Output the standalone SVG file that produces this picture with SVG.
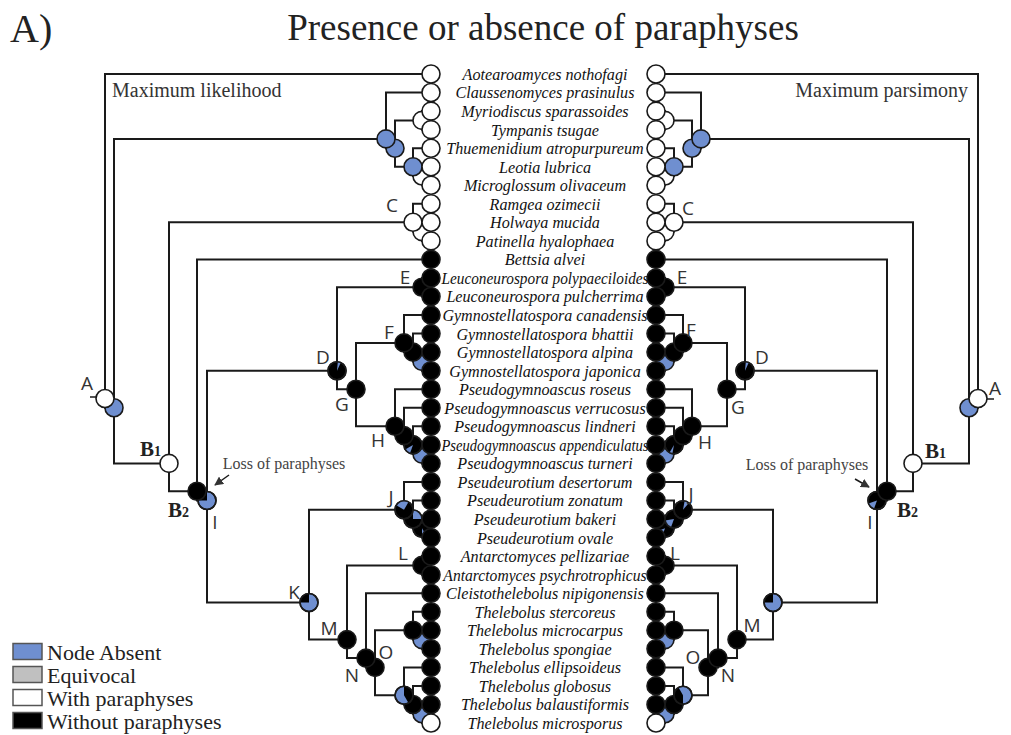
<svg xmlns="http://www.w3.org/2000/svg" width="1011" height="735" viewBox="0 0 1011 735">
<style>
.ln{fill:none;stroke:#1a1a1a;stroke-width:2}
.w{fill:#fff;stroke:#1a1a1a;stroke-width:1.6}
.k{fill:#000;stroke:#1a1a1a;stroke-width:1.6}
.b{fill:#6f8fd0;stroke:#1a1a1a;stroke-width:1.6}
.o{fill:none;stroke:#1a1a1a;stroke-width:1.6}
.fb{fill:#6f8fd0}
.fk{fill:#000}
.tx{font-family:"Liberation Serif",serif;font-style:italic;font-size:17px;text-anchor:middle;fill:#111}
.lb{font-family:"Open Sans","DejaVu Sans",sans-serif;font-size:19px;text-anchor:middle;fill:#333}
.bl{font-family:"Liberation Serif",serif;font-weight:bold;font-size:21px;fill:#222}
.sub{font-size:14px}
.lg{font-family:"Liberation Serif",serif;font-size:22px;fill:#222}
.loss{font-family:"Liberation Serif",serif;font-size:16px;fill:#444;text-anchor:middle}
.hd{font-family:"Liberation Serif",serif;font-size:20px;fill:#333}
</style>
<defs>
<marker id="ah" viewBox="0 0 10 10" refX="9" refY="5" markerWidth="6" markerHeight="6" orient="auto"><path d="M0,0 L10,5 L0,10 z" fill="#333"/></marker>
</defs>
<rect width="1011" height="735" fill="#fff"/>
<text x="10" y="42" font-family="Liberation Serif, serif" font-size="40" fill="#222">A)</text>
<text x="543" y="40" font-family="Liberation Serif, serif" font-size="37" fill="#222" text-anchor="middle">Presence or absence of paraphyses</text>
<text class="hd" x="112" y="97">Maximum likelihood</text>
<text class="hd" x="968" y="97" text-anchor="end">Maximum parsimony</text>

<g id="connectors" class="ln">
<path d="M431,74 H105 V407.8 H114"/>
<path d="M386,138.9 H114 V463.4 H169"/>
<path d="M413,222.3 H169 V491.2 H197"/>
<path d="M431,259.4 H197 V500.5 H207"/>
<path d="M337,370.7 H207 V602.5 H309"/>
<path d="M422,287.2 H337 V389.2 H356"/>
<path d="M404,342.9 H356 V426.3 H395"/>
<path d="M404,509.8 H309 V639.6 H347"/>
<path d="M422,565.4 H347 V658.1 H366"/>
<path d="M431,593.2 H366 V667.4 H375"/>
<path d="M413,630.3 H375 V695.2 H404"/>
<path d="M431,92.5 H386 V148.2 H395"/>
<path d="M422,120.4 H395 V166.7 H413"/>
<path d="M431,111.1 H422 V129.6 H431"/>
<path d="M431,148.2 H413 V176 H422"/>
<path d="M431,166.7 H422 V185.3 H431"/>
<path d="M431,203.8 H413 V231.6 H422"/>
<path d="M431,222.3 H422 V240.9 H431"/>
<path d="M431,278 H422 V296.5 H431"/>
<path d="M431,315.1 H404 V352.1 H413"/>
<path d="M431,333.6 H413 V361.4 H422"/>
<path d="M431,352.1 H422 V370.7 H431"/>
<path d="M431,389.2 H395 V435.6 H404"/>
<path d="M431,407.8 H404 V444.9 H413"/>
<path d="M431,426.3 H413 V454.1 H422"/>
<path d="M431,444.9 H422 V463.4 H431"/>
<path d="M431,481.9 H404 V519 H413"/>
<path d="M431,500.5 H413 V528.3 H422"/>
<path d="M431,519 H422 V537.6 H431"/>
<path d="M431,556.1 H422 V574.7 H431"/>
<path d="M431,611.7 H413 V639.6 H422"/>
<path d="M431,630.3 H422 V648.8 H431"/>
<path d="M431,667.4 H404 V704.5 H413"/>
<path d="M431,685.9 H413 V713.7 H422"/>
<path d="M431,704.5 H422 V723 H431"/>
<path d="M656,74 H978 V407.8 H969"/>
<path d="M701,138.9 H969 V463.4 H913"/>
<path d="M674,222.3 H913 V491.2 H887"/>
<path d="M656,259.4 H887 V500.5 H877"/>
<path d="M745,370.7 H877 V602.5 H773"/>
<path d="M665,287.2 H745 V389.2 H727"/>
<path d="M683,342.9 H727 V426.3 H692"/>
<path d="M683,509.8 H773 V639.6 H737"/>
<path d="M665,565.4 H737 V658.1 H718"/>
<path d="M656,593.2 H718 V667.4 H708"/>
<path d="M674,630.3 H708 V695.2 H683"/>
<path d="M656,92.5 H701 V148.2 H692"/>
<path d="M665,120.4 H692 V166.7 H674"/>
<path d="M656,111.1 H665 V129.6 H656"/>
<path d="M656,148.2 H674 V176 H665"/>
<path d="M656,166.7 H665 V185.3 H656"/>
<path d="M656,203.8 H674 V231.6 H665"/>
<path d="M656,222.3 H665 V240.9 H656"/>
<path d="M656,278 H665 V296.5 H656"/>
<path d="M656,315.1 H683 V352.1 H674"/>
<path d="M656,333.6 H674 V361.4 H665"/>
<path d="M656,352.1 H665 V370.7 H656"/>
<path d="M656,389.2 H692 V435.6 H683"/>
<path d="M656,407.8 H683 V444.9 H674"/>
<path d="M656,426.3 H674 V454.1 H665"/>
<path d="M656,444.9 H665 V463.4 H656"/>
<path d="M656,481.9 H683 V519 H674"/>
<path d="M656,500.5 H674 V528.3 H665"/>
<path d="M656,519 H665 V537.6 H656"/>
<path d="M656,556.1 H665 V574.7 H656"/>
<path d="M656,611.7 H674 V639.6 H665"/>
<path d="M656,630.3 H665 V648.8 H656"/>
<path d="M656,667.4 H683 V704.5 H674"/>
<path d="M656,685.9 H674 V713.7 H665"/>
<path d="M656,704.5 H665 V723 H656"/>
<path d="M90,397 H97" stroke-width="1.5"/>
<path d="M987,399 H994" stroke-width="1.5"/>
<path d="M229,475 L215,485" stroke-width="1.5" marker-end="url(#ah)"/>
<path d="M855,479 L869,487" stroke-width="1.5" marker-end="url(#ah)"/>
</g>

<g id="left-nodes">
<g id="L-T3"><circle class="w" cx="422" cy="120.4" r="9"/></g>
<g id="L-T5"><circle class="w" cx="422" cy="176" r="9"/></g>
<g id="L-T4"><circle class="b" cx="413" cy="166.7" r="9"/></g>
<g id="L-T2"><circle class="b" cx="395" cy="148.2" r="9"/></g>
<g id="L-T1"><circle class="b" cx="386" cy="138.9" r="9"/></g>
<g id="L-C2"><circle class="w" cx="422" cy="231.6" r="9"/></g>
<g id="L-C"><circle class="w" cx="413" cy="222.3" r="9"/><text class="lb" x="392" y="212">C</text></g>
<g id="L-E"><circle class="k" cx="422" cy="287.2" r="9"/><text class="lb" x="405" y="284">E</text></g>
<g id="L-F3"><circle class="b" cx="422" cy="361.4" r="9"/></g>
<g id="L-F2"><circle class="k" cx="413" cy="352.1" r="9"/></g>
<g id="L-F"><circle class="k" cx="404" cy="342.9" r="9"/><text class="lb" x="389" y="339">F</text></g>
<g id="L-H4"><circle class="b" cx="422" cy="454.1" r="9"/></g>
<g id="L-H3"><circle class="k" cx="413" cy="444.9" r="9"/><path class="fb" d="M413,444.9 L409.9,453.4 A9,9 0 0 1 405.2,449.4 Z"/><circle class="o" cx="413" cy="444.9" r="9"/></g>
<g id="L-H2"><circle class="k" cx="404" cy="435.6" r="9"/></g>
<g id="L-H"><circle class="k" cx="395" cy="426.3" r="9"/><text class="lb" x="378" y="447">H</text></g>
<g id="L-G"><circle class="k" cx="356" cy="389.2" r="9"/><text class="lb" x="342" y="411">G</text></g>
<g id="L-D"><circle class="k" cx="337" cy="370.7" r="9"/><path class="fb" d="M337,370.7 L337.8,361.7 A9,9 0 0 1 340.8,362.5 Z"/><circle class="o" cx="337" cy="370.7" r="9"/><text class="lb" x="323" y="364">D</text></g>
<g id="L-J3"><circle class="k" cx="422" cy="528.3" r="9"/><path class="fb" d="M422,528.3 L426.5,536.1 A9,9 0 0 1 422,537.3 Z"/><circle class="o" cx="422" cy="528.3" r="9"/></g>
<g id="L-J2"><circle class="k" cx="413" cy="519" r="9"/><path class="fb" d="M413,519 L413,510 A9,9 0 0 1 422,519 Z"/><circle class="o" cx="413" cy="519" r="9"/></g>
<g id="L-J"><circle class="k" cx="404" cy="509.8" r="9"/><path class="fb" d="M404,509.8 L396.2,505.3 A9,9 0 0 1 408.5,502 Z"/><circle class="o" cx="404" cy="509.8" r="9"/><text class="lb" x="391" y="504">J</text></g>
<g id="L-L"><circle class="k" cx="422" cy="565.4" r="9"/><text class="lb" x="403" y="560">L</text></g>
<g id="L-U2"><circle class="b" cx="422" cy="639.6" r="9"/></g>
<g id="L-U1"><circle class="k" cx="413" cy="630.3" r="9"/></g>
<g id="L-W3"><circle class="b" cx="422" cy="713.7" r="9"/></g>
<g id="L-W2"><circle class="k" cx="413" cy="704.5" r="9"/></g>
<g id="L-W1"><circle class="b" cx="404" cy="695.2" r="9"/><path class="fk" d="M404,695.2 L404,686.2 A9,9 0 0 1 408.5,703 Z"/><circle class="o" cx="404" cy="695.2" r="9"/></g>
<g id="L-O"><circle class="k" cx="375" cy="667.4" r="9"/><text class="lb" x="386" y="659">O</text></g>
<g id="L-N"><circle class="k" cx="366" cy="658.1" r="9"/><text class="lb" x="352" y="682">N</text></g>
<g id="L-M"><circle class="k" cx="347" cy="639.6" r="9"/><text class="lb" x="329" y="635">M</text></g>
<g id="L-K"><circle class="b" cx="309" cy="602.5" r="9"/><path class="fk" d="M309,602.5 L300,602.5 A9,9 0 0 1 309,593.5 Z"/><circle class="o" cx="309" cy="602.5" r="9"/><text class="lb" x="294" y="599">K</text></g>
<g id="L-I"><circle class="b" cx="207" cy="500.5" r="9"/><path class="fk" d="M207,500.5 L198,500.5 A9,9 0 0 1 207,491.5 Z"/><circle class="o" cx="207" cy="500.5" r="9"/><text class="lb" x="215" y="529">I</text></g>
<g id="L-B2"><circle class="k" cx="197" cy="491.2" r="9"/><text class="bl" x="168" y="517">B<tspan class="sub">2</tspan></text></g>
<g id="L-B1"><circle class="w" cx="169" cy="463.4" r="9"/><text class="bl" x="140" y="456">B<tspan class="sub">1</tspan></text></g>
<g id="L-A2"><circle class="b" cx="114" cy="407.8" r="9"/></g>
<g id="L-A"><circle class="w" cx="105" cy="398.5" r="9"/><text class="lb" x="87" y="390">A</text></g>
<g id="L-loss"><text class="loss" x="284" y="469">Loss of paraphyses</text></g>
</g>

<g id="right-nodes">
<g id="R-T3"><circle class="w" cx="665" cy="120.4" r="9"/></g>
<g id="R-T5"><circle class="w" cx="665" cy="176" r="9"/></g>
<g id="R-T4"><circle class="b" cx="674" cy="166.7" r="9"/></g>
<g id="R-T2"><circle class="b" cx="692" cy="148.2" r="9"/></g>
<g id="R-T1"><circle class="b" cx="701" cy="138.9" r="9"/></g>
<g id="R-C2"><circle class="w" cx="665" cy="231.6" r="9"/></g>
<g id="R-C"><circle class="w" cx="674" cy="222.3" r="9"/><text class="lb" x="688" y="215">C</text></g>
<g id="R-E"><circle class="k" cx="665" cy="287.2" r="9"/><text class="lb" x="682" y="284">E</text></g>
<g id="R-F3"><circle class="b" cx="665" cy="361.4" r="9"/></g>
<g id="R-F2"><circle class="k" cx="674" cy="352.1" r="9"/></g>
<g id="R-F"><circle class="k" cx="683" cy="342.9" r="9"/><text class="lb" x="691" y="337">F</text></g>
<g id="R-H4"><circle class="b" cx="665" cy="454.1" r="9"/></g>
<g id="R-H3"><circle class="k" cx="674" cy="444.9" r="9"/><path class="fb" d="M674,444.9 L672.4,453.8 A9,9 0 0 1 669.5,452.7 Z"/><circle class="o" cx="674" cy="444.9" r="9"/></g>
<g id="R-H2"><circle class="k" cx="683" cy="435.6" r="9"/></g>
<g id="R-H"><circle class="k" cx="692" cy="426.3" r="9"/><text class="lb" x="705" y="449">H</text></g>
<g id="R-G"><circle class="k" cx="727" cy="389.2" r="9"/><text class="lb" x="738" y="414">G</text></g>
<g id="R-D"><circle class="k" cx="745" cy="370.7" r="9"/><path class="fb" d="M745,370.7 L745.8,361.7 A9,9 0 0 1 748.8,362.5 Z"/><circle class="o" cx="745" cy="370.7" r="9"/><text class="lb" x="762" y="364">D</text></g>
<g id="R-J3"><circle class="k" cx="665" cy="528.3" r="9"/><path class="fb" d="M665,528.3 L661.9,536.8 A9,9 0 0 1 656.5,531.4 Z"/><circle class="o" cx="665" cy="528.3" r="9"/></g>
<g id="R-J2"><circle class="k" cx="674" cy="519" r="9"/><path class="fb" d="M674,519 L670.9,527.5 A9,9 0 0 1 665.1,520.6 Z"/><circle class="o" cx="674" cy="519" r="9"/></g>
<g id="R-J"><circle class="k" cx="683" cy="509.8" r="9"/><path class="fb" d="M683,509.8 L684.6,500.9 A9,9 0 0 1 688.8,502.9 Z"/><circle class="o" cx="683" cy="509.8" r="9"/><text class="lb" x="691" y="501">J</text></g>
<g id="R-L"><circle class="k" cx="665" cy="565.4" r="9"/><text class="lb" x="675" y="560">L</text></g>
<g id="R-U2"><circle class="b" cx="665" cy="639.6" r="9"/></g>
<g id="R-U1"><circle class="k" cx="674" cy="630.3" r="9"/></g>
<g id="R-W3"><circle class="b" cx="665" cy="713.7" r="9"/></g>
<g id="R-W2"><circle class="k" cx="674" cy="704.5" r="9"/></g>
<g id="R-W1"><circle class="b" cx="683" cy="695.2" r="9"/><path class="fk" d="M683,695.2 L683,704.2 A9,9 0 0 1 678.5,687.4 Z"/><circle class="o" cx="683" cy="695.2" r="9"/></g>
<g id="R-O"><circle class="k" cx="708" cy="667.4" r="9"/><text class="lb" x="693" y="664">O</text></g>
<g id="R-N"><circle class="k" cx="718" cy="658.1" r="9"/><text class="lb" x="728" y="682">N</text></g>
<g id="R-M"><circle class="k" cx="737" cy="639.6" r="9"/><text class="lb" x="752" y="632">M</text></g>
<g id="R-K"><circle class="b" cx="773" cy="602.5" r="9"/><path class="fk" d="M773,602.5 L764,602.5 A9,9 0 0 1 773,593.5 Z"/><circle class="o" cx="773" cy="602.5" r="9"/></g>
<g id="R-I"><circle class="k" cx="877" cy="500.5" r="9"/><path class="fb" d="M877,500.5 L873.9,509 A9,9 0 0 1 868.5,503.6 Z"/><circle class="o" cx="877" cy="500.5" r="9"/><text class="lb" x="870" y="529">I</text></g>
<g id="R-B2"><circle class="k" cx="887" cy="491.2" r="9"/><text class="bl" x="897" y="517">B<tspan class="sub">2</tspan></text></g>
<g id="R-B1"><circle class="w" cx="913" cy="463.4" r="9"/><text class="bl" x="925" y="458">B<tspan class="sub">1</tspan></text></g>
<g id="R-A2"><circle class="b" cx="969" cy="407.8" r="9"/></g>
<g id="R-A"><circle class="w" cx="978" cy="398.5" r="9"/><text class="lb" x="995" y="395">A</text></g>
<g id="R-loss"><text class="loss" x="807" y="470">Loss of paraphyses</text></g>
</g>

<g id="taxa">
<g id="t01"><circle class="w" cx="431" cy="74" r="9"/><circle class="w" cx="656" cy="74" r="9"/><text class="tx" x="545" y="80" transform="matrix(0.95 0 0 1 27.25 0)">Aotearoamyces nothofagi</text></g>
<g id="t02"><circle class="w" cx="431" cy="92.5" r="9"/><circle class="w" cx="656" cy="92.5" r="9"/><text class="tx" x="545" y="98.5" transform="matrix(0.95 0 0 1 27.25 0)">Claussenomyces prasinulus</text></g>
<g id="t03"><circle class="w" cx="431" cy="111.1" r="9"/><circle class="w" cx="656" cy="111.1" r="9"/><text class="tx" x="545" y="117.1" transform="matrix(0.95 0 0 1 27.25 0)">Myriodiscus sparassoides</text></g>
<g id="t04"><circle class="w" cx="431" cy="129.6" r="9"/><circle class="w" cx="656" cy="129.6" r="9"/><text class="tx" x="545" y="135.6" transform="matrix(0.95 0 0 1 27.25 0)">Tympanis tsugae</text></g>
<g id="t05"><circle class="w" cx="431" cy="148.2" r="9"/><circle class="w" cx="656" cy="148.2" r="9"/><text class="tx" x="545" y="154.2" transform="matrix(0.95 0 0 1 27.25 0)">Thuemenidium atropurpureum</text></g>
<g id="t06"><circle class="w" cx="431" cy="166.7" r="9"/><circle class="w" cx="656" cy="166.7" r="9"/><text class="tx" x="545" y="172.7" transform="matrix(0.95 0 0 1 27.25 0)">Leotia lubrica</text></g>
<g id="t07"><circle class="w" cx="431" cy="185.3" r="9"/><circle class="w" cx="656" cy="185.3" r="9"/><text class="tx" x="545" y="191.3" transform="matrix(0.95 0 0 1 27.25 0)">Microglossum olivaceum</text></g>
<g id="t08"><circle class="w" cx="431" cy="203.8" r="9"/><circle class="w" cx="656" cy="203.8" r="9"/><text class="tx" x="545" y="209.8" transform="matrix(0.95 0 0 1 27.25 0)">Ramgea ozimecii</text></g>
<g id="t09"><circle class="w" cx="431" cy="222.3" r="9"/><circle class="w" cx="656" cy="222.3" r="9"/><text class="tx" x="545" y="228.3" transform="matrix(0.95 0 0 1 27.25 0)">Holwaya mucida</text></g>
<g id="t10"><circle class="w" cx="431" cy="240.9" r="9"/><circle class="w" cx="656" cy="240.9" r="9"/><text class="tx" x="545" y="246.9" transform="matrix(0.95 0 0 1 27.25 0)">Patinella hyalophaea</text></g>
<g id="t11"><circle class="k" cx="431" cy="259.4" r="9"/><circle class="k" cx="656" cy="259.4" r="9"/><text class="tx" x="545" y="265.4" transform="matrix(0.95 0 0 1 27.25 0)">Bettsia alvei</text></g>
<g id="t12"><circle class="k" cx="431" cy="278" r="9"/><circle class="k" cx="656" cy="278" r="9"/><text class="tx" x="545" y="284" transform="matrix(0.95 0 0 1 27.25 0)" textLength="218" lengthAdjust="spacingAndGlyphs">Leuconeurospora polypaeciloides</text></g>
<g id="t13"><circle class="k" cx="431" cy="296.5" r="9"/><circle class="k" cx="656" cy="296.5" r="9"/><text class="tx" x="545" y="302.5" transform="matrix(0.95 0 0 1 27.25 0)">Leuconeurospora pulcherrima</text></g>
<g id="t14"><circle class="k" cx="431" cy="315.1" r="9"/><circle class="k" cx="656" cy="315.1" r="9"/><text class="tx" x="545" y="321.1" transform="matrix(0.95 0 0 1 27.25 0)" textLength="216" lengthAdjust="spacingAndGlyphs">Gymnostellatospora canadensis</text></g>
<g id="t15"><circle class="k" cx="431" cy="333.6" r="9"/><circle class="k" cx="656" cy="333.6" r="9"/><text class="tx" x="545" y="339.6" transform="matrix(0.95 0 0 1 27.25 0)">Gymnostellatospora bhattii</text></g>
<g id="t16"><circle class="k" cx="431" cy="352.1" r="9"/><circle class="k" cx="656" cy="352.1" r="9"/><text class="tx" x="545" y="358.1" transform="matrix(0.95 0 0 1 27.25 0)">Gymnostellatospora alpina</text></g>
<g id="t17"><circle class="k" cx="431" cy="370.7" r="9"/><circle class="k" cx="656" cy="370.7" r="9"/><text class="tx" x="545" y="376.7" transform="matrix(0.95 0 0 1 27.25 0)">Gymnostellatospora japonica</text></g>
<g id="t18"><circle class="k" cx="431" cy="389.2" r="9"/><circle class="k" cx="656" cy="389.2" r="9"/><text class="tx" x="545" y="395.2" transform="matrix(0.95 0 0 1 27.25 0)">Pseudogymnoascus roseus</text></g>
<g id="t19"><circle class="k" cx="431" cy="407.8" r="9"/><circle class="k" cx="656" cy="407.8" r="9"/><text class="tx" x="545" y="413.8" transform="matrix(0.95 0 0 1 27.25 0)">Pseudogymnoascus verrucosus</text></g>
<g id="t20"><circle class="k" cx="431" cy="426.3" r="9"/><circle class="k" cx="656" cy="426.3" r="9"/><text class="tx" x="545" y="432.3" transform="matrix(0.95 0 0 1 27.25 0)">Pseudogymnoascus lindneri</text></g>
<g id="t21"><circle class="k" cx="431" cy="444.9" r="9"/><circle class="k" cx="656" cy="444.9" r="9"/><text class="tx" x="545" y="450.9" transform="matrix(0.95 0 0 1 27.25 0)" textLength="218" lengthAdjust="spacingAndGlyphs">Pseudogymnoascus appendiculatus</text></g>
<g id="t22"><circle class="k" cx="431" cy="463.4" r="9"/><circle class="k" cx="656" cy="463.4" r="9"/><text class="tx" x="545" y="469.4" transform="matrix(0.95 0 0 1 27.25 0)">Pseudogymnoascus turneri</text></g>
<g id="t23"><circle class="k" cx="431" cy="481.9" r="9"/><circle class="k" cx="656" cy="481.9" r="9"/><text class="tx" x="545" y="487.9" transform="matrix(0.95 0 0 1 27.25 0)">Pseudeurotium desertorum</text></g>
<g id="t24"><circle class="k" cx="431" cy="500.5" r="9"/><circle class="k" cx="656" cy="500.5" r="9"/><text class="tx" x="545" y="506.5" transform="matrix(0.95 0 0 1 27.25 0)">Pseudeurotium zonatum</text></g>
<g id="t25"><circle class="k" cx="431" cy="519" r="9"/><circle class="k" cx="656" cy="519" r="9"/><text class="tx" x="545" y="525" transform="matrix(0.95 0 0 1 27.25 0)">Pseudeurotium bakeri</text></g>
<g id="t26"><circle class="k" cx="431" cy="537.6" r="9"/><circle class="k" cx="656" cy="537.6" r="9"/><text class="tx" x="545" y="543.6" transform="matrix(0.95 0 0 1 27.25 0)">Pseudeurotium ovale</text></g>
<g id="t27"><circle class="k" cx="431" cy="556.1" r="9"/><circle class="k" cx="656" cy="556.1" r="9"/><text class="tx" x="545" y="562.1" transform="matrix(0.95 0 0 1 27.25 0)">Antarctomyces pellizariae</text></g>
<g id="t28"><circle class="k" cx="431" cy="574.7" r="9"/><circle class="k" cx="656" cy="574.7" r="9"/><text class="tx" x="545" y="580.7" transform="matrix(0.95 0 0 1 27.25 0)" textLength="214" lengthAdjust="spacingAndGlyphs">Antarctomyces psychrotrophicus</text></g>
<g id="t29"><circle class="k" cx="431" cy="593.2" r="9"/><circle class="k" cx="656" cy="593.2" r="9"/><text class="tx" x="545" y="599.2" transform="matrix(0.95 0 0 1 27.25 0)">Cleistothelebolus nipigonensis</text></g>
<g id="t30"><circle class="k" cx="431" cy="611.7" r="9"/><circle class="k" cx="656" cy="611.7" r="9"/><text class="tx" x="545" y="617.7" transform="matrix(0.95 0 0 1 27.25 0)">Thelebolus stercoreus</text></g>
<g id="t31"><circle class="k" cx="431" cy="630.3" r="9"/><circle class="k" cx="656" cy="630.3" r="9"/><text class="tx" x="545" y="636.3" transform="matrix(0.95 0 0 1 27.25 0)">Thelebolus microcarpus</text></g>
<g id="t32"><circle class="k" cx="431" cy="648.8" r="9"/><circle class="k" cx="656" cy="648.8" r="9"/><text class="tx" x="545" y="654.8" transform="matrix(0.95 0 0 1 27.25 0)">Thelebolus spongiae</text></g>
<g id="t33"><circle class="k" cx="431" cy="667.4" r="9"/><circle class="k" cx="656" cy="667.4" r="9"/><text class="tx" x="545" y="673.4" transform="matrix(0.95 0 0 1 27.25 0)">Thelebolus ellipsoideus</text></g>
<g id="t34"><circle class="k" cx="431" cy="685.9" r="9"/><circle class="k" cx="656" cy="685.9" r="9"/><text class="tx" x="545" y="691.9" transform="matrix(0.95 0 0 1 27.25 0)">Thelebolus globosus</text></g>
<g id="t35"><circle class="k" cx="431" cy="704.5" r="9"/><circle class="k" cx="656" cy="704.5" r="9"/><text class="tx" x="545" y="710.5" transform="matrix(0.95 0 0 1 27.25 0)">Thelebolus balaustiformis</text></g>
<g id="t36"><circle class="w" cx="431" cy="723" r="9"/><circle class="w" cx="656" cy="723" r="9"/><text class="tx" x="545" y="729" transform="matrix(0.95 0 0 1 27.25 0)">Thelebolus microsporus</text></g>
</g>

<g id="legend">
<rect x="13" y="643.5" width="29" height="16" fill="#6f8fd0" stroke="#555" stroke-width="1.5"/>
<rect x="13" y="666.5" width="29" height="16" fill="#c0c0c0" stroke="#555" stroke-width="1.5"/>
<rect x="13" y="689.5" width="29" height="16" fill="#fff" stroke="#555" stroke-width="1.5"/>
<rect x="13" y="712.5" width="29" height="16" fill="#000" stroke="#555" stroke-width="1.5"/>
<text class="lg" x="47" y="660">Node Absent</text>
<text class="lg" x="47" y="683">Equivocal</text>
<text class="lg" x="47" y="706">With paraphyses</text>
<text class="lg" x="47" y="729">Without paraphyses</text>
</g>
</svg>
